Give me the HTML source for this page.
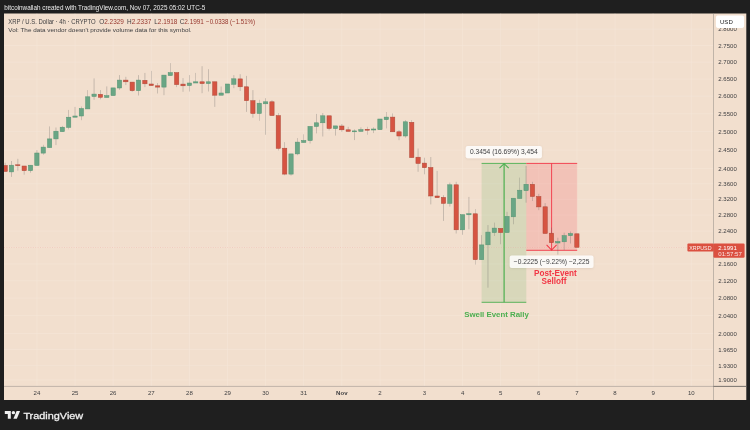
<!DOCTYPE html>
<html><head><meta charset="utf-8"><title>XRP / U.S. Dollar chart</title>
<style>
html,body{margin:0;padding:0;background:#1f1f1f;}
body{width:750px;height:430px;overflow:hidden;position:relative;font-family:"Liberation Sans",sans-serif;}
svg{position:absolute;left:0;top:0;display:block}
text{font-family:"Liberation Sans",sans-serif;}
</style></head><body>
<svg width="750" height="430" viewBox="0 0 750 430">
<defs>
<filter id="sh" x="-10%" y="-30%" width="120%" height="170%"><feDropShadow dx="0" dy="0.6" stdDeviation="0.9" flood-color="#000" flood-opacity="0.10"/></filter>
<clipPath id="pane"><rect x="4" y="13.5" width="709.5" height="372.9"/></clipPath>
</defs>
<rect width="750" height="430" fill="#1f1f1f"/>
<rect x="4" y="13.5" width="742.3" height="386.5" fill="#f2dfce"/>

<text x="4.3" y="10.2" font-size="6.33" fill="#ececec">bitcoinwallah created with TradingView.com, Nov 07, 2025 05:02 UTC-5</text>
<g stroke="#f5e5d8" stroke-width="0.6" clip-path="url(#pane)">
<line x1="4" x2="713.5" y1="29.2" y2="29.2"/>
<line x1="4" x2="713.5" y1="45.5" y2="45.5"/>
<line x1="4" x2="713.5" y1="62.1" y2="62.1"/>
<line x1="4" x2="713.5" y1="79.0" y2="79.0"/>
<line x1="4" x2="713.5" y1="96.2" y2="96.2"/>
<line x1="4" x2="713.5" y1="113.8" y2="113.8"/>
<line x1="4" x2="713.5" y1="131.7" y2="131.7"/>
<line x1="4" x2="713.5" y1="150.0" y2="150.0"/>
<line x1="4" x2="713.5" y1="168.6" y2="168.6"/>
<line x1="4" x2="713.5" y1="183.8" y2="183.8"/>
<line x1="4" x2="713.5" y1="199.3" y2="199.3"/>
<line x1="4" x2="713.5" y1="215.0" y2="215.0"/>
<line x1="4" x2="713.5" y1="231.0" y2="231.0"/>
<line x1="4" x2="713.5" y1="247.3" y2="247.3"/>
<line x1="4" x2="713.5" y1="263.9" y2="263.9"/>
<line x1="4" x2="713.5" y1="280.8" y2="280.8"/>
<line x1="4" x2="713.5" y1="298.0" y2="298.0"/>
<line x1="4" x2="713.5" y1="315.6" y2="315.6"/>
<line x1="4" x2="713.5" y1="333.5" y2="333.5"/>
<line x1="4" x2="713.5" y1="349.4" y2="349.4"/>
<line x1="4" x2="713.5" y1="365.7" y2="365.7"/>
<line x1="4" x2="713.5" y1="379.9" y2="379.9"/>
<line x1="36.9" x2="36.9" y1="13.5" y2="386.4"/>
<line x1="75.0" x2="75.0" y1="13.5" y2="386.4"/>
<line x1="113.1" x2="113.1" y1="13.5" y2="386.4"/>
<line x1="151.3" x2="151.3" y1="13.5" y2="386.4"/>
<line x1="189.4" x2="189.4" y1="13.5" y2="386.4"/>
<line x1="227.5" x2="227.5" y1="13.5" y2="386.4"/>
<line x1="265.6" x2="265.6" y1="13.5" y2="386.4"/>
<line x1="303.7" x2="303.7" y1="13.5" y2="386.4"/>
<line x1="341.8" x2="341.8" y1="13.5" y2="386.4"/>
<line x1="380.0" x2="380.0" y1="13.5" y2="386.4"/>
<line x1="424.4" x2="424.4" y1="13.5" y2="386.4"/>
<line x1="462.6" x2="462.6" y1="13.5" y2="386.4"/>
<line x1="500.7" x2="500.7" y1="13.5" y2="386.4"/>
<line x1="538.8" x2="538.8" y1="13.5" y2="386.4"/>
<line x1="576.9" x2="576.9" y1="13.5" y2="386.4"/>
<line x1="615.0" x2="615.0" y1="13.5" y2="386.4"/>
<line x1="653.1" x2="653.1" y1="13.5" y2="386.4"/>
<line x1="691.3" x2="691.3" y1="13.5" y2="386.4"/>
</g>
<rect x="481.6" y="163.4" width="44.7" height="138.9" fill="#71b96e" fill-opacity="0.2"/>
<rect x="526.3" y="163.4" width="50.9" height="86.9" fill="#f23645" fill-opacity="0.17"/>
<line x1="4" x2="713.5" y1="247.7" y2="247.7" stroke="#e98a7c" stroke-width="0.6" stroke-dasharray="1 1.4" opacity="0.5"/>
<g stroke="#4caf50" fill="none" stroke-width="0.9">
<line x1="481.6" x2="526.3" y1="163.4" y2="163.4"/><line x1="481.6" x2="526.3" y1="302.3" y2="302.3"/>
<line x1="504.1" x2="504.1" y1="163.4" y2="302.3" stroke-width="1.2"/>
<path d="M499.5 168.20000000000002 L504.1 163.70000000000002 L508.70000000000005 168.20000000000002" stroke-width="1.1"/>
</g>
<g stroke="#f23645" fill="none" stroke-width="0.9">
<line x1="526.3" x2="577.2" y1="163.4" y2="163.4"/><line x1="526.3" x2="577.2" y1="250.3" y2="250.3"/>
<line x1="551.6" x2="551.6" y1="163.4" y2="250.3" stroke-width="0.9"/>
<path d="M546.6 244.9 L551.6 250.0 L556.6 244.9" stroke-width="1.05"/>
</g>
<g clip-path="url(#pane)">
<line x1="5.13" x2="5.13" y1="162.7" y2="171.5" stroke="#5e5e5e" stroke-width="0.5" opacity="0.6"/>
<rect x="2.98" y="165.5" width="4.3" height="6.0" fill="#d65442" stroke="#ad4839" stroke-width="0.5"/>
<line x1="11.49" x2="11.49" y1="161.0" y2="176.9" stroke="#5e5e5e" stroke-width="0.5" opacity="0.6"/>
<rect x="9.34" y="165.2" width="4.3" height="6.7" fill="#6aa685" stroke="#559372" stroke-width="0.5"/>
<line x1="17.84" x2="17.84" y1="158.8" y2="170.7" stroke="#5e5e5e" stroke-width="0.5" opacity="0.6"/>
<rect x="15.69" y="164.8" width="4.3" height="0.9" fill="#d65442" stroke="#ad4839" stroke-width="0.5"/>
<line x1="24.19" x2="24.19" y1="166.0" y2="174.7" stroke="#5e5e5e" stroke-width="0.5" opacity="0.6"/>
<rect x="22.04" y="166.0" width="4.3" height="4.7" fill="#d65442" stroke="#ad4839" stroke-width="0.5"/>
<line x1="30.55" x2="30.55" y1="165.2" y2="172.7" stroke="#5e5e5e" stroke-width="0.5" opacity="0.6"/>
<rect x="28.40" y="165.2" width="4.3" height="5.5" fill="#6aa685" stroke="#559372" stroke-width="0.5"/>
<line x1="36.90" x2="36.90" y1="150.1" y2="165.5" stroke="#5e5e5e" stroke-width="0.5" opacity="0.6"/>
<rect x="34.75" y="153.0" width="4.3" height="12.5" fill="#6aa685" stroke="#559372" stroke-width="0.5"/>
<line x1="43.25" x2="43.25" y1="144.8" y2="154.8" stroke="#5e5e5e" stroke-width="0.5" opacity="0.6"/>
<rect x="41.10" y="147.1" width="4.3" height="6.0" fill="#6aa685" stroke="#559372" stroke-width="0.5"/>
<line x1="49.61" x2="49.61" y1="126.4" y2="147.6" stroke="#5e5e5e" stroke-width="0.5" opacity="0.6"/>
<rect x="47.46" y="138.9" width="4.3" height="8.7" fill="#6aa685" stroke="#559372" stroke-width="0.5"/>
<line x1="55.96" x2="55.96" y1="127.5" y2="145.1" stroke="#5e5e5e" stroke-width="0.5" opacity="0.6"/>
<rect x="53.81" y="131.2" width="4.3" height="7.7" fill="#6aa685" stroke="#559372" stroke-width="0.5"/>
<line x1="62.31" x2="62.31" y1="125.9" y2="131.7" stroke="#5e5e5e" stroke-width="0.5" opacity="0.6"/>
<rect x="60.16" y="127.2" width="4.3" height="4.5" fill="#6aa685" stroke="#559372" stroke-width="0.5"/>
<line x1="68.66" x2="68.66" y1="109.9" y2="129.4" stroke="#5e5e5e" stroke-width="0.5" opacity="0.6"/>
<rect x="66.51" y="117.2" width="4.3" height="10.2" fill="#6aa685" stroke="#559372" stroke-width="0.5"/>
<line x1="75.02" x2="75.02" y1="106.9" y2="117.2" stroke="#5e5e5e" stroke-width="0.5" opacity="0.6"/>
<rect x="72.87" y="116.0" width="4.3" height="1.2" fill="#6aa685" stroke="#559372" stroke-width="0.5"/>
<line x1="81.37" x2="81.37" y1="106.5" y2="120.2" stroke="#5e5e5e" stroke-width="0.5" opacity="0.6"/>
<rect x="79.22" y="108.5" width="4.3" height="7.5" fill="#6aa685" stroke="#559372" stroke-width="0.5"/>
<line x1="87.72" x2="87.72" y1="90.1" y2="108.9" stroke="#5e5e5e" stroke-width="0.5" opacity="0.6"/>
<rect x="85.57" y="96.8" width="4.3" height="12.1" fill="#6aa685" stroke="#559372" stroke-width="0.5"/>
<line x1="94.08" x2="94.08" y1="78.4" y2="99.8" stroke="#5e5e5e" stroke-width="0.5" opacity="0.6"/>
<rect x="91.93" y="94.1" width="4.3" height="2.4" fill="#6aa685" stroke="#559372" stroke-width="0.5"/>
<line x1="100.43" x2="100.43" y1="90.1" y2="99.3" stroke="#5e5e5e" stroke-width="0.5" opacity="0.6"/>
<rect x="98.28" y="94.3" width="4.3" height="3.0" fill="#d65442" stroke="#ad4839" stroke-width="0.5"/>
<line x1="106.78" x2="106.78" y1="86.4" y2="97.5" stroke="#5e5e5e" stroke-width="0.5" opacity="0.6"/>
<rect x="104.63" y="95.6" width="4.3" height="1.9" fill="#6aa685" stroke="#559372" stroke-width="0.5"/>
<line x1="113.14" x2="113.14" y1="87.9" y2="95.6" stroke="#5e5e5e" stroke-width="0.5" opacity="0.6"/>
<rect x="110.99" y="87.9" width="4.3" height="7.7" fill="#6aa685" stroke="#559372" stroke-width="0.5"/>
<line x1="119.49" x2="119.49" y1="75.1" y2="89.8" stroke="#5e5e5e" stroke-width="0.5" opacity="0.6"/>
<rect x="117.34" y="80.1" width="4.3" height="7.9" fill="#6aa685" stroke="#559372" stroke-width="0.5"/>
<line x1="125.84" x2="125.84" y1="76.8" y2="85.1" stroke="#5e5e5e" stroke-width="0.5" opacity="0.6"/>
<rect x="123.69" y="80.1" width="4.3" height="1.7" fill="#d65442" stroke="#ad4839" stroke-width="0.5"/>
<line x1="132.19" x2="132.19" y1="82.1" y2="91.8" stroke="#5e5e5e" stroke-width="0.5" opacity="0.6"/>
<rect x="130.04" y="82.1" width="4.3" height="8.6" fill="#d65442" stroke="#ad4839" stroke-width="0.5"/>
<line x1="138.55" x2="138.55" y1="75.1" y2="95.5" stroke="#5e5e5e" stroke-width="0.5" opacity="0.6"/>
<rect x="136.40" y="80.1" width="4.3" height="10.6" fill="#6aa685" stroke="#559372" stroke-width="0.5"/>
<line x1="144.90" x2="144.90" y1="72.9" y2="87.1" stroke="#5e5e5e" stroke-width="0.5" opacity="0.6"/>
<rect x="142.75" y="80.3" width="4.3" height="3.5" fill="#d65442" stroke="#ad4839" stroke-width="0.5"/>
<line x1="151.25" x2="151.25" y1="70.9" y2="85.6" stroke="#5e5e5e" stroke-width="0.5" opacity="0.6"/>
<rect x="149.10" y="84.0" width="4.3" height="1.6" fill="#d65442" stroke="#ad4839" stroke-width="0.5"/>
<line x1="157.61" x2="157.61" y1="83.0" y2="93.5" stroke="#5e5e5e" stroke-width="0.5" opacity="0.6"/>
<rect x="155.46" y="85.8" width="4.3" height="1.3" fill="#d65442" stroke="#ad4839" stroke-width="0.5"/>
<line x1="163.96" x2="163.96" y1="75.1" y2="95.2" stroke="#5e5e5e" stroke-width="0.5" opacity="0.6"/>
<rect x="161.81" y="75.1" width="4.3" height="12.0" fill="#6aa685" stroke="#559372" stroke-width="0.5"/>
<line x1="170.31" x2="170.31" y1="63.1" y2="75.6" stroke="#5e5e5e" stroke-width="0.5" opacity="0.6"/>
<rect x="168.16" y="72.6" width="4.3" height="3.0" fill="#6aa685" stroke="#559372" stroke-width="0.5"/>
<line x1="176.67" x2="176.67" y1="72.6" y2="87.1" stroke="#5e5e5e" stroke-width="0.5" opacity="0.6"/>
<rect x="174.52" y="72.6" width="4.3" height="12.0" fill="#d65442" stroke="#ad4839" stroke-width="0.5"/>
<line x1="183.02" x2="183.02" y1="78.1" y2="91.8" stroke="#5e5e5e" stroke-width="0.5" opacity="0.6"/>
<rect x="180.87" y="84.1" width="4.3" height="1.7" fill="#d65442" stroke="#ad4839" stroke-width="0.5"/>
<line x1="189.37" x2="189.37" y1="75.1" y2="91.5" stroke="#5e5e5e" stroke-width="0.5" opacity="0.6"/>
<rect x="187.22" y="83.0" width="4.3" height="2.6" fill="#6aa685" stroke="#559372" stroke-width="0.5"/>
<line x1="195.72" x2="195.72" y1="72.9" y2="83.0" stroke="#5e5e5e" stroke-width="0.5" opacity="0.6"/>
<rect x="193.57" y="81.8" width="4.3" height="1.2" fill="#6aa685" stroke="#559372" stroke-width="0.5"/>
<line x1="202.08" x2="202.08" y1="66.2" y2="93.2" stroke="#5e5e5e" stroke-width="0.5" opacity="0.6"/>
<rect x="199.93" y="81.8" width="4.3" height="1.8" fill="#d65442" stroke="#ad4839" stroke-width="0.5"/>
<line x1="208.43" x2="208.43" y1="69.2" y2="91.5" stroke="#5e5e5e" stroke-width="0.5" opacity="0.6"/>
<rect x="206.28" y="81.8" width="4.3" height="1.8" fill="#6aa685" stroke="#559372" stroke-width="0.5"/>
<line x1="214.78" x2="214.78" y1="81.8" y2="106.9" stroke="#5e5e5e" stroke-width="0.5" opacity="0.6"/>
<rect x="212.63" y="81.8" width="4.3" height="13.4" fill="#d65442" stroke="#ad4839" stroke-width="0.5"/>
<line x1="221.14" x2="221.14" y1="86.5" y2="95.2" stroke="#5e5e5e" stroke-width="0.5" opacity="0.6"/>
<rect x="218.99" y="93.0" width="4.3" height="2.2" fill="#6aa685" stroke="#559372" stroke-width="0.5"/>
<line x1="227.49" x2="227.49" y1="84.0" y2="93.0" stroke="#5e5e5e" stroke-width="0.5" opacity="0.6"/>
<rect x="225.34" y="84.0" width="4.3" height="9.0" fill="#6aa685" stroke="#559372" stroke-width="0.5"/>
<line x1="233.84" x2="233.84" y1="75.1" y2="88.2" stroke="#5e5e5e" stroke-width="0.5" opacity="0.6"/>
<rect x="231.69" y="78.8" width="4.3" height="5.5" fill="#6aa685" stroke="#559372" stroke-width="0.5"/>
<line x1="240.20" x2="240.20" y1="74.2" y2="91.0" stroke="#5e5e5e" stroke-width="0.5" opacity="0.6"/>
<rect x="238.05" y="78.9" width="4.3" height="7.9" fill="#d65442" stroke="#ad4839" stroke-width="0.5"/>
<line x1="246.55" x2="246.55" y1="75.9" y2="111.9" stroke="#5e5e5e" stroke-width="0.5" opacity="0.6"/>
<rect x="244.40" y="86.8" width="4.3" height="13.9" fill="#d65442" stroke="#ad4839" stroke-width="0.5"/>
<line x1="252.90" x2="252.90" y1="90.1" y2="117.7" stroke="#5e5e5e" stroke-width="0.5" opacity="0.6"/>
<rect x="250.75" y="100.7" width="4.3" height="12.8" fill="#d65442" stroke="#ad4839" stroke-width="0.5"/>
<line x1="259.25" x2="259.25" y1="99.8" y2="120.8" stroke="#5e5e5e" stroke-width="0.5" opacity="0.6"/>
<rect x="257.11" y="103.2" width="4.3" height="10.3" fill="#6aa685" stroke="#559372" stroke-width="0.5"/>
<line x1="265.61" x2="265.61" y1="98.2" y2="134.8" stroke="#5e5e5e" stroke-width="0.5" opacity="0.6"/>
<rect x="263.46" y="101.8" width="4.3" height="2.0" fill="#6aa685" stroke="#559372" stroke-width="0.5"/>
<line x1="271.96" x2="271.96" y1="100.2" y2="115.6" stroke="#5e5e5e" stroke-width="0.5" opacity="0.6"/>
<rect x="269.81" y="101.8" width="4.3" height="13.8" fill="#d65442" stroke="#ad4839" stroke-width="0.5"/>
<line x1="278.31" x2="278.31" y1="113.0" y2="150.5" stroke="#5e5e5e" stroke-width="0.5" opacity="0.6"/>
<rect x="276.16" y="115.6" width="4.3" height="32.8" fill="#d65442" stroke="#ad4839" stroke-width="0.5"/>
<line x1="284.67" x2="284.67" y1="142.1" y2="175.3" stroke="#5e5e5e" stroke-width="0.5" opacity="0.6"/>
<rect x="282.52" y="148.2" width="4.3" height="25.9" fill="#d65442" stroke="#ad4839" stroke-width="0.5"/>
<line x1="291.02" x2="291.02" y1="153.9" y2="175.6" stroke="#5e5e5e" stroke-width="0.5" opacity="0.6"/>
<rect x="288.87" y="153.9" width="4.3" height="20.2" fill="#6aa685" stroke="#559372" stroke-width="0.5"/>
<line x1="297.37" x2="297.37" y1="138.1" y2="155.2" stroke="#5e5e5e" stroke-width="0.5" opacity="0.6"/>
<rect x="295.22" y="142.1" width="4.3" height="11.8" fill="#6aa685" stroke="#559372" stroke-width="0.5"/>
<line x1="303.73" x2="303.73" y1="134.3" y2="142.5" stroke="#5e5e5e" stroke-width="0.5" opacity="0.6"/>
<rect x="301.58" y="140.5" width="4.3" height="2.0" fill="#6aa685" stroke="#559372" stroke-width="0.5"/>
<line x1="310.08" x2="310.08" y1="126.4" y2="143.5" stroke="#5e5e5e" stroke-width="0.5" opacity="0.6"/>
<rect x="307.93" y="126.4" width="4.3" height="14.2" fill="#6aa685" stroke="#559372" stroke-width="0.5"/>
<line x1="316.43" x2="316.43" y1="113.9" y2="133.4" stroke="#5e5e5e" stroke-width="0.5" opacity="0.6"/>
<rect x="314.28" y="122.8" width="4.3" height="3.7" fill="#6aa685" stroke="#559372" stroke-width="0.5"/>
<line x1="322.78" x2="322.78" y1="113.0" y2="136.5" stroke="#5e5e5e" stroke-width="0.5" opacity="0.6"/>
<rect x="320.63" y="115.8" width="4.3" height="7.0" fill="#6aa685" stroke="#559372" stroke-width="0.5"/>
<line x1="329.14" x2="329.14" y1="115.8" y2="130.4" stroke="#5e5e5e" stroke-width="0.5" opacity="0.6"/>
<rect x="326.99" y="115.8" width="4.3" height="12.7" fill="#d65442" stroke="#ad4839" stroke-width="0.5"/>
<line x1="335.49" x2="335.49" y1="125.9" y2="135.6" stroke="#5e5e5e" stroke-width="0.5" opacity="0.6"/>
<rect x="333.34" y="125.9" width="4.3" height="2.7" fill="#6aa685" stroke="#559372" stroke-width="0.5"/>
<line x1="341.84" x2="341.84" y1="124.0" y2="131.8" stroke="#5e5e5e" stroke-width="0.5" opacity="0.6"/>
<rect x="339.69" y="126.0" width="4.3" height="3.8" fill="#d65442" stroke="#ad4839" stroke-width="0.5"/>
<line x1="348.20" x2="348.20" y1="126.8" y2="131.4" stroke="#5e5e5e" stroke-width="0.5" opacity="0.6"/>
<rect x="346.05" y="129.8" width="4.3" height="1.6" fill="#d65442" stroke="#ad4839" stroke-width="0.5"/>
<line x1="354.55" x2="354.55" y1="129.3" y2="140.1" stroke="#5e5e5e" stroke-width="0.5" opacity="0.6"/>
<rect x="352.40" y="130.9" width="4.3" height="0.9" fill="#6aa685" stroke="#559372" stroke-width="0.5"/>
<line x1="360.90" x2="360.90" y1="127.3" y2="131.4" stroke="#5e5e5e" stroke-width="0.5" opacity="0.6"/>
<rect x="358.75" y="129.6" width="4.3" height="1.8" fill="#6aa685" stroke="#559372" stroke-width="0.5"/>
<line x1="367.26" x2="367.26" y1="126.8" y2="134.8" stroke="#5e5e5e" stroke-width="0.5" opacity="0.6"/>
<rect x="365.11" y="129.3" width="4.3" height="0.9" fill="#d65442" stroke="#ad4839" stroke-width="0.5"/>
<line x1="373.61" x2="373.61" y1="127.3" y2="133.1" stroke="#5e5e5e" stroke-width="0.5" opacity="0.6"/>
<rect x="371.46" y="129.0" width="4.3" height="1.0" fill="#6aa685" stroke="#559372" stroke-width="0.5"/>
<line x1="379.96" x2="379.96" y1="119.0" y2="129.7" stroke="#5e5e5e" stroke-width="0.5" opacity="0.6"/>
<rect x="377.81" y="119.0" width="4.3" height="10.7" fill="#6aa685" stroke="#559372" stroke-width="0.5"/>
<line x1="386.31" x2="386.31" y1="112.0" y2="128.4" stroke="#5e5e5e" stroke-width="0.5" opacity="0.6"/>
<rect x="384.16" y="117.1" width="4.3" height="2.6" fill="#6aa685" stroke="#559372" stroke-width="0.5"/>
<line x1="392.67" x2="392.67" y1="113.4" y2="131.8" stroke="#5e5e5e" stroke-width="0.5" opacity="0.6"/>
<rect x="390.52" y="117.1" width="4.3" height="14.7" fill="#d65442" stroke="#ad4839" stroke-width="0.5"/>
<line x1="399.02" x2="399.02" y1="130.1" y2="140.2" stroke="#5e5e5e" stroke-width="0.5" opacity="0.6"/>
<rect x="396.87" y="131.8" width="4.3" height="4.2" fill="#d65442" stroke="#ad4839" stroke-width="0.5"/>
<line x1="405.37" x2="405.37" y1="120.1" y2="137.7" stroke="#5e5e5e" stroke-width="0.5" opacity="0.6"/>
<rect x="403.22" y="121.8" width="4.3" height="14.2" fill="#6aa685" stroke="#559372" stroke-width="0.5"/>
<line x1="411.73" x2="411.73" y1="120.1" y2="157.6" stroke="#5e5e5e" stroke-width="0.5" opacity="0.6"/>
<rect x="409.58" y="122.3" width="4.3" height="35.3" fill="#d65442" stroke="#ad4839" stroke-width="0.5"/>
<line x1="418.08" x2="418.08" y1="148.5" y2="171.8" stroke="#5e5e5e" stroke-width="0.5" opacity="0.6"/>
<rect x="415.93" y="157.2" width="4.3" height="6.3" fill="#d65442" stroke="#ad4839" stroke-width="0.5"/>
<line x1="424.43" x2="424.43" y1="157.7" y2="174.3" stroke="#5e5e5e" stroke-width="0.5" opacity="0.6"/>
<rect x="422.28" y="163.1" width="4.3" height="4.6" fill="#d65442" stroke="#ad4839" stroke-width="0.5"/>
<line x1="430.79" x2="430.79" y1="157.0" y2="204.4" stroke="#5e5e5e" stroke-width="0.5" opacity="0.6"/>
<rect x="428.64" y="167.5" width="4.3" height="28.5" fill="#d65442" stroke="#ad4839" stroke-width="0.5"/>
<line x1="437.14" x2="437.14" y1="170.9" y2="197.7" stroke="#5e5e5e" stroke-width="0.5" opacity="0.6"/>
<rect x="434.99" y="196.0" width="4.3" height="1.7" fill="#d65442" stroke="#ad4839" stroke-width="0.5"/>
<line x1="443.49" x2="443.49" y1="195.2" y2="220.9" stroke="#5e5e5e" stroke-width="0.5" opacity="0.6"/>
<rect x="441.34" y="197.4" width="4.3" height="6.0" fill="#d65442" stroke="#ad4839" stroke-width="0.5"/>
<line x1="449.84" x2="449.84" y1="182.6" y2="206.6" stroke="#5e5e5e" stroke-width="0.5" opacity="0.6"/>
<rect x="447.69" y="184.8" width="4.3" height="18.6" fill="#6aa685" stroke="#559372" stroke-width="0.5"/>
<line x1="456.20" x2="456.20" y1="181.8" y2="233.5" stroke="#5e5e5e" stroke-width="0.5" opacity="0.6"/>
<rect x="454.05" y="184.8" width="4.3" height="45.0" fill="#d65442" stroke="#ad4839" stroke-width="0.5"/>
<line x1="462.55" x2="462.55" y1="214.7" y2="234.8" stroke="#5e5e5e" stroke-width="0.5" opacity="0.6"/>
<rect x="460.40" y="214.7" width="4.3" height="15.1" fill="#6aa685" stroke="#559372" stroke-width="0.5"/>
<line x1="468.90" x2="468.90" y1="196.9" y2="229.3" stroke="#5e5e5e" stroke-width="0.5" opacity="0.6"/>
<rect x="466.75" y="213.7" width="4.3" height="1.1" fill="#6aa685" stroke="#559372" stroke-width="0.5"/>
<line x1="475.26" x2="475.26" y1="209.0" y2="264.6" stroke="#5e5e5e" stroke-width="0.5" opacity="0.6"/>
<rect x="473.11" y="213.8" width="4.3" height="45.9" fill="#d65442" stroke="#ad4839" stroke-width="0.5"/>
<line x1="481.61" x2="481.61" y1="235.1" y2="259.7" stroke="#5e5e5e" stroke-width="0.5" opacity="0.6"/>
<rect x="479.46" y="244.9" width="4.3" height="14.8" fill="#6aa685" stroke="#559372" stroke-width="0.5"/>
<line x1="487.96" x2="487.96" y1="225.1" y2="287.7" stroke="#5e5e5e" stroke-width="0.5" opacity="0.6"/>
<rect x="485.81" y="232.1" width="4.3" height="12.7" fill="#6aa685" stroke="#559372" stroke-width="0.5"/>
<line x1="494.32" x2="494.32" y1="222.6" y2="236.0" stroke="#5e5e5e" stroke-width="0.5" opacity="0.6"/>
<rect x="492.17" y="228.1" width="4.3" height="4.5" fill="#6aa685" stroke="#559372" stroke-width="0.5"/>
<line x1="500.67" x2="500.67" y1="228.4" y2="244.3" stroke="#5e5e5e" stroke-width="0.5" opacity="0.6"/>
<rect x="498.52" y="228.4" width="4.3" height="4.2" fill="#d65442" stroke="#ad4839" stroke-width="0.5"/>
<line x1="507.02" x2="507.02" y1="211.8" y2="232.6" stroke="#5e5e5e" stroke-width="0.5" opacity="0.6"/>
<rect x="504.87" y="216.4" width="4.3" height="16.2" fill="#6aa685" stroke="#559372" stroke-width="0.5"/>
<line x1="513.38" x2="513.38" y1="198.2" y2="224.3" stroke="#5e5e5e" stroke-width="0.5" opacity="0.6"/>
<rect x="511.23" y="198.2" width="4.3" height="18.6" fill="#6aa685" stroke="#559372" stroke-width="0.5"/>
<line x1="519.73" x2="519.73" y1="177.6" y2="198.5" stroke="#5e5e5e" stroke-width="0.5" opacity="0.6"/>
<rect x="517.58" y="190.2" width="4.3" height="8.3" fill="#6aa685" stroke="#559372" stroke-width="0.5"/>
<line x1="526.08" x2="526.08" y1="165.9" y2="202.7" stroke="#5e5e5e" stroke-width="0.5" opacity="0.6"/>
<rect x="523.93" y="184.3" width="4.3" height="6.4" fill="#6aa685" stroke="#559372" stroke-width="0.5"/>
<line x1="532.43" x2="532.43" y1="181.8" y2="201.0" stroke="#5e5e5e" stroke-width="0.5" opacity="0.6"/>
<rect x="530.28" y="184.3" width="4.3" height="12.2" fill="#d65442" stroke="#ad4839" stroke-width="0.5"/>
<line x1="538.79" x2="538.79" y1="193.8" y2="210.2" stroke="#5e5e5e" stroke-width="0.5" opacity="0.6"/>
<rect x="536.64" y="196.5" width="4.3" height="10.4" fill="#d65442" stroke="#ad4839" stroke-width="0.5"/>
<line x1="545.14" x2="545.14" y1="203.1" y2="233.5" stroke="#5e5e5e" stroke-width="0.5" opacity="0.6"/>
<rect x="542.99" y="206.8" width="4.3" height="26.7" fill="#d65442" stroke="#ad4839" stroke-width="0.5"/>
<line x1="551.49" x2="551.49" y1="227.6" y2="242.7" stroke="#5e5e5e" stroke-width="0.5" opacity="0.6"/>
<rect x="549.34" y="233.2" width="4.3" height="9.5" fill="#d65442" stroke="#ad4839" stroke-width="0.5"/>
<line x1="557.85" x2="557.85" y1="237.7" y2="254.6" stroke="#5e5e5e" stroke-width="0.5" opacity="0.6"/>
<rect x="555.70" y="241.5" width="4.3" height="1.5" fill="#6aa685" stroke="#559372" stroke-width="0.5"/>
<line x1="564.20" x2="564.20" y1="232.7" y2="250.1" stroke="#5e5e5e" stroke-width="0.5" opacity="0.6"/>
<rect x="562.05" y="235.6" width="4.3" height="6.2" fill="#6aa685" stroke="#559372" stroke-width="0.5"/>
<line x1="570.55" x2="570.55" y1="231.5" y2="243.5" stroke="#5e5e5e" stroke-width="0.5" opacity="0.6"/>
<rect x="568.40" y="233.5" width="4.3" height="2.2" fill="#6aa685" stroke="#559372" stroke-width="0.5"/>
<line x1="576.90" x2="576.90" y1="233.8" y2="247.3" stroke="#5e5e5e" stroke-width="0.5" opacity="0.6"/>
<rect x="574.75" y="233.8" width="4.3" height="13.5" fill="#d65442" stroke="#ad4839" stroke-width="0.5"/>
</g>
<rect x="465.7" y="146" width="76.2" height="12.3" rx="2" fill="#ffffff" fill-opacity="0.84" filter="url(#sh)"/>
<text x="503.8" y="154.3" font-size="6.66" fill="#404042" text-anchor="middle">0.3454 (16.69%) 3,454</text>
<rect x="509.7" y="255.4" width="83.8" height="12.6" rx="2" fill="#ffffff" fill-opacity="0.84" filter="url(#sh)"/>
<text x="551.6" y="263.9" font-size="6.66" fill="#404042" text-anchor="middle">−0.2225 (−9.22%) −2,225</text>
<text x="496.5" y="316.6" font-size="7.86" font-weight="bold" fill="#4caf50" text-anchor="middle">Swell Event Rally</text>
<text x="555.4" y="276.2" font-size="8.18" font-weight="bold" fill="#f23645" text-anchor="middle">Post-Event</text>
<text x="554.0" y="283.8" font-size="8.18" font-weight="bold" fill="#f23645" text-anchor="middle">Selloff</text>
<g font-size="6.4" fill="#404042">
<text x="8.3" y="23.8" textLength="87.4" lengthAdjust="spacingAndGlyphs">XRP / U.S. Dollar · 4h · CRYPTO</text>
<text x="99.3" y="23.8">O<tspan fill="#96352c">2.2329</tspan></text>
<text x="127.1" y="23.8">H<tspan fill="#96352c">2.2337</tspan></text>
<text x="154.3" y="23.8">L<tspan fill="#96352c">2.1918</tspan></text>
<text x="179.7" y="23.8">C<tspan fill="#96352c">2.1991</tspan></text>
<text x="206.1" y="23.8" fill="#96352c" textLength="49" lengthAdjust="spacingAndGlyphs">−0.0338 (−1.51%)</text>
<text x="8.3" y="32.0" font-size="6.25" textLength="183.3" lengthAdjust="spacingAndGlyphs">Vol: The data vendor doesn't provide volume data for this symbol.</text>
</g>
<g stroke="#8f8882" stroke-width="0.5"><line x1="713.5" x2="713.5" y1="13.5" y2="400"/><line x1="4" x2="746.3" y1="386.4" y2="386.4"/><line x1="713.5" x2="746.3" y1="386.4" y2="386.4" stroke="#5f5b58" stroke-width="0.7"/></g>
<g font-size="6.05" fill="#404042">
<text x="718.3" y="31.4">2.8000</text>
<text x="718.3" y="47.6">2.7500</text>
<text x="718.3" y="64.2">2.7000</text>
<text x="718.3" y="81.1">2.6500</text>
<text x="718.3" y="98.4">2.6000</text>
<text x="718.3" y="115.9">2.5500</text>
<text x="718.3" y="133.8">2.5000</text>
<text x="718.3" y="152.1">2.4500</text>
<text x="718.3" y="170.8">2.4000</text>
<text x="718.3" y="186.0">2.3600</text>
<text x="718.3" y="201.4">2.3200</text>
<text x="718.3" y="217.1">2.2800</text>
<text x="718.3" y="233.1">2.2400</text>
<text x="718.3" y="266.0">2.1600</text>
<text x="718.3" y="282.9">2.1200</text>
<text x="718.3" y="300.2">2.0800</text>
<text x="718.3" y="317.7">2.0400</text>
<text x="718.3" y="335.6">2.0000</text>
<text x="718.3" y="351.6">1.9650</text>
<text x="718.3" y="367.8">1.9300</text>
<text x="718.3" y="382.0">1.9000</text>
</g>
<rect x="715.9" y="15.6" width="28.2" height="12.3" rx="1.8" fill="#ffffff"/>
<text x="720" y="23.6" font-size="6.05" fill="#222">USD</text>
<g font-size="6.05" fill="#404042" text-anchor="middle">
<text x="36.9" y="395.4">24</text>
<text x="75.0" y="395.4">25</text>
<text x="113.1" y="395.4">26</text>
<text x="151.3" y="395.4">27</text>
<text x="189.4" y="395.4">28</text>
<text x="227.5" y="395.4">29</text>
<text x="265.6" y="395.4">30</text>
<text x="303.7" y="395.4">31</text>
<text x="341.8" y="395.4" font-weight="bold">Nov</text>
<text x="380.0" y="395.4">2</text>
<text x="424.4" y="395.4">3</text>
<text x="462.6" y="395.4">4</text>
<text x="500.7" y="395.4">5</text>
<text x="538.8" y="395.4">6</text>
<text x="576.9" y="395.4">7</text>
<text x="615.0" y="395.4">8</text>
<text x="653.1" y="395.4">9</text>
<text x="691.3" y="395.4">10</text>
</g>
<rect x="687.4" y="243.6" width="26.4" height="7.9" rx="1" fill="#db5040"/>
<rect x="713.4" y="243.6" width="31.2" height="14.2" rx="1.2" fill="#db5040"/>
<text x="689.3" y="249.8" font-size="6.05" fill="#fff" fill-opacity="0.92" textLength="22.2" lengthAdjust="spacingAndGlyphs">XRPUSD</text>
<text x="718.3" y="249.9" font-size="6.05" fill="#fff">2.1991</text>
<text x="718.3" y="256.2" font-size="6.05" fill="#fff" fill-opacity="0.85">01:57:57</text>
<g transform="translate(4.8 409.2) scale(0.43)" fill="#f0f0f0"><path d="M14 22H7V11H0V4h14v18z"/><path d="M28 22h-8l7.5-18h8L28 22z"/><circle cx="20" cy="8" r="4"/></g>
<text x="23.4" y="418.5" font-size="9.9" fill="#f0f0f0" stroke="#f0f0f0" stroke-width="0.3" textLength="59.8" lengthAdjust="spacingAndGlyphs">TradingView</text>
</svg></body></html>
